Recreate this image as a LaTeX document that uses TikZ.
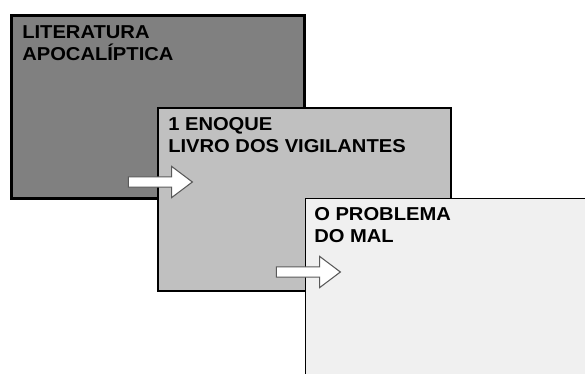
\documentclass[tikz,border=0pt]{standalone}
\usepackage{fontspec}
\setmainfont[FakeStretch=1.08]{Liberation Sans}
\usetikzlibrary{positioning,calc,shapes.arrows}
\definecolor{boxdark}{HTML}{808080}
\definecolor{boxmid}{HTML}{C0C0C0}
\definecolor{boxlight}{HTML}{F0F0F0}
\definecolor{arrowedge}{HTML}{5A5A5A}
\begin{document}
\begin{tikzpicture}[x=0.75pt,y=-0.75pt,
  box/.style={rectangle,draw=black,anchor=north west,inner sep=0pt,
    minimum width=219.75pt,minimum height=137.25pt},
  boxtext/.style={anchor=north west,inner sep=0pt,align=left,
    font=\fontsize{14pt}{16.5pt}\selectfont\bfseries},
  blockarrow/.style={single arrow,draw=arrowedge,fill=white,line width=0.8pt,
    inner xsep=0pt,inner ysep=3.4pt,minimum height=48pt,
    single arrow head extend=7.9pt,single arrow tip angle=74}]

  % ---- Page frame -------------------------------------------
  \clip (0,0) rectangle (585,374);
  \fill[white] (0,0) rectangle (585,374);

  % ---- Back box: apocalyptic literature ---------------------
  \node[box,fill=boxdark,line width=2.25pt] (apocaliptica) at (10,14) {};
  \node[boxtext] (apocalipticatxt) at ($(apocaliptica.north west)+(12,11)$)
    {LITERATURA\\APOCALÍPTICA};

  % ---- Middle box: 1 Enoch ----------------------------------
  \node[box,fill=boxmid,line width=1.5pt] (enoque)
    at ($(apocaliptica.north west)+(147,93)$) {};
  \node[boxtext] (enoquetxt) at ($(enoque.north west)+(11,10)$)
    {1 ENOQUE\\LIVRO DOS VIGILANTES};
  \node[blockarrow] (arrowA) at ($(enoque.north west)+(0,75)$) {};

  % ---- Front box: problem of evil ---------------------------
  \node[box,fill=boxlight,line width=1pt] (problema)
    at ($(enoque.north west)+(148,91)$) {};
  \node[boxtext] (problematxt) at ($(problema.north west)+(9,9)$)
    {O PROBLEMA\\DO MAL};
  \node[blockarrow] (arrowB) at ($(problema.north west)+(0,74)$) {};

\end{tikzpicture}
\end{document}
